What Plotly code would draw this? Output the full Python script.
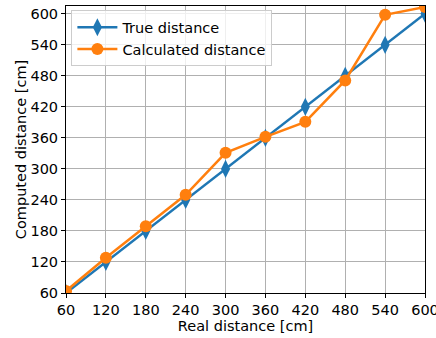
import plotly.graph_objects as go

real = [60, 120, 180, 240, 300, 360, 420, 480, 540, 600]
true_dist = [60, 120, 180, 240, 300, 360, 420, 480, 540, 600]
calc_dist = [64, 128, 189, 250, 331, 362, 391, 471, 598, 613]
ticks = [60, 120, 180, 240, 300, 360, 420, 480, 540, 600]

fig = go.Figure()
fig.add_trace(go.Scatter(x=real, y=true_dist, mode="lines+markers", name="True distance",
                         line=dict(color="#1f77b4", width=2.5),
                         marker=dict(symbol="diamond-tall", size=13, color="#1f77b4"),
                         cliponaxis=True))
fig.add_trace(go.Scatter(x=real, y=calc_dist, mode="lines+markers", name="Calculated distance",
                         line=dict(color="#ff7f0e", width=2.5),
                         marker=dict(symbol="circle", size=12, color="#ff7f0e"),
                         cliponaxis=True))

FS = 14.5
axis_common = dict(showline=True, linecolor="black", linewidth=1, mirror=True,
                   ticks="outside", ticklen=4, tickcolor="black",
                   showgrid=True, gridcolor="#b0b0b0", gridwidth=1,
                   zeroline=False, tickfont=dict(size=FS, color="black"),
                   tickvals=ticks, automargin=False, ticklabeloverflow="allow")
fig.update_xaxes(range=[60, 600], title=dict(text="Real distance [cm]", font=dict(size=FS, color="black"), standoff=0),
                 **axis_common)
fig.update_yaxes(range=[60, 615], title=dict(text="Computed distance [cm]", font=dict(size=FS, color="black"), standoff=0),
                 **axis_common)
fig.update_layout(width=436, height=338, margin=dict(l=66, r=11, t=6, b=45),
                  plot_bgcolor="white", paper_bgcolor="white",
                  font=dict(family="DejaVu Sans", color="black"),
                  legend=dict(x=0.015, y=0.985, xanchor="left", yanchor="top",
                              bgcolor="rgba(255,255,255,0.8)", bordercolor="#cccccc", borderwidth=1,
                              font=dict(size=FS), itemwidth=40, tracegroupgap=0))
fig.write_html("out.html", config={"displayModeBar": False},
               post_script="document.body.style.margin='0px';document.body.style.overflow='hidden';")
